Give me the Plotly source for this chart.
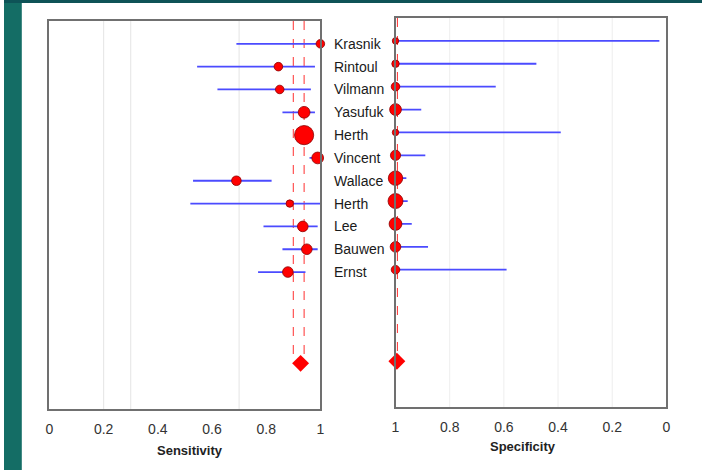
import math
import plotly.graph_objects as go

studies = ["Krasnik", "Rintoul", "Vilmann", "Yasufuk", "Herth", "Vincent",
           "Wallace", "Herth", "Lee", "Bauwen", "Ernst"]

sens = [1.00, 0.845, 0.85, 0.94, 0.94, 0.99, 0.69, 0.887, 0.935, 0.95, 0.88]
sens_lo = [0.69, 0.545, 0.62, 0.86, 0.91, 0.96, 0.53, 0.52, 0.79, 0.86, 0.77]
sens_hi = [1.00, 0.98, 0.965, 0.98, 0.97, 1.00, 0.82, 1.00, 0.99, 0.99, 0.945]
sens_weight = [3.2, 3.2, 3.2, 6.0, 16.0, 6.0, 4.0, 2.4, 4.9, 4.9, 4.9]

spec = [1.00, 1.00, 1.00, 1.00, 1.00, 1.00, 1.00, 1.00, 1.00, 1.00, 1.00]
spec_lo = [0.026, 0.48, 0.63, 0.905, 0.39, 0.89, 0.96, 0.955, 0.94, 0.88, 0.59]
spec_hi = [1.00, 1.00, 1.00, 1.00, 1.00, 1.00, 1.00, 1.00, 1.00, 1.00, 1.00]
spec_weight = [1.8, 2.4, 3.2, 6.0, 1.8, 4.5, 9.0, 9.7, 7.1, 4.9, 3.2]

pooled_sens = 0.927
pooled_sens_ci = [0.90, 0.94]
pooled_spec = 0.995
pooled_spec_ci = [0.993, 0.993]

sens_ticks = [0, 0.2, 0.4, 0.6, 0.8, 1]
spec_ticks = [1, 0.8, 0.6, 0.4, 0.2, 0]

rows = list(range(1, len(studies) + 1))
pooled_row = 15

W, H = 706, 470
def px(x):
    return x / W
def py(y):
    return 1 - y / H

fig = go.Figure()

def ci_trace(lo, hi, xa, ya):
    xs, ys = [], []
    for r, a, b in zip(rows, lo, hi):
        xs += [a, b, None]
        ys += [r, r, None]
    return go.Scatter(x=xs, y=ys, mode="lines", xaxis=xa, yaxis=ya,
                      line=dict(color="#4b4bff", width=1.8), cliponaxis=False,
                      hoverinfo="skip", showlegend=False)

def pt_trace(vals, weights, xa, ya):
    return go.Scatter(x=vals, y=rows, mode="markers", xaxis=xa, yaxis=ya, cliponaxis=False,
                      marker=dict(color="#ff0000", opacity=1,
                                  size=[4.8 * math.sqrt(w) for w in weights],
                                  line=dict(color="#8a0000", width=0.8)),
                      showlegend=False)

# dashed pooled lines
for v in pooled_sens_ci:
    fig.add_trace(go.Scatter(x=[v, v], y=[0, pooled_row], mode="lines", xaxis="x", yaxis="y",
                             line=dict(color="#ff3030", width=1, dash="dash"),
                             hoverinfo="skip", showlegend=False))
fig.add_trace(go.Scatter(x=[pooled_spec_ci[0], pooled_spec_ci[0]], y=[0, pooled_row], mode="lines",
                         xaxis="x2", yaxis="y2",
                         line=dict(color="#ff3030", width=1, dash="dash"),
                         hoverinfo="skip", showlegend=False))

fig.add_trace(ci_trace(sens_lo, sens_hi, "x", "y"))
fig.add_trace(ci_trace(spec_lo, spec_hi, "x2", "y2"))
fig.add_trace(pt_trace(sens, sens_weight, "x", "y"))
fig.add_trace(pt_trace(spec, spec_weight, "x2", "y2"))

fig.add_trace(go.Scatter(x=[pooled_sens], y=[pooled_row], mode="markers", xaxis="x", yaxis="y",
                         cliponaxis=False,
                         marker=dict(symbol="diamond", color="#ff0000", size=13, opacity=1,
                                     line=dict(color="#ff0000", width=0)),
                         showlegend=False))
fig.add_trace(go.Scatter(x=[pooled_spec], y=[pooled_row], mode="markers", xaxis="x2", yaxis="y2",
                         cliponaxis=False,
                         marker=dict(symbol="diamond", color="#ff0000", size=13, opacity=1,
                                     line=dict(color="#ff0000", width=0)),
                         showlegend=False))

axis_common = dict(showline=True, linecolor="#707070", linewidth=1.5, mirror=True,
                   showgrid=False, zeroline=False, ticks="",
                   tickfont=dict(family="Arial", size=14, color="#333333"),
                   ticklabelstandoff=6)

fig.update_layout(
    width=W, height=H,
    margin=dict(l=0, r=0, t=0, b=0),
    paper_bgcolor="white", plot_bgcolor="white",
    xaxis=dict(domain=[px(46), px(320)], range=[0, 1], anchor="y",
               tickvals=sens_ticks, ticktext=[f"{t:g}" for t in sens_ticks], **axis_common),
    yaxis=dict(domain=[py(409), py(21)], range=[17, 0], anchor="x",
               showticklabels=False, showline=True, linecolor="#707070", linewidth=1.5,
               mirror=True, showgrid=False, zeroline=False, ticks=""),
    xaxis2=dict(domain=[px(396), px(670)], range=[1, 0], anchor="y2",
                tickvals=spec_ticks, ticktext=[f"{t:g}" for t in spec_ticks], **axis_common),
    yaxis2=dict(domain=[py(407), py(18)], range=[17, 0], anchor="x2",
                showticklabels=False, showline=True, linecolor="#707070", linewidth=1.5,
                mirror=True, showgrid=False, zeroline=False, ticks=""),
    showlegend=False,
)

# faint background grid artefacts
shapes = []
for v in [0.2, 0.3, 0.7]:
    shapes.append(dict(type="line", xref="x", yref="y", x0=v, x1=v, y0=0, y1=17,
                       line=dict(color="#e4e4e4", width=1), layer="below"))
for v in [0.8, 0.6, 0.4, 0.2]:
    shapes.append(dict(type="line", xref="x2", yref="y2", x0=v, x1=v, y0=0, y1=17,
                       line=dict(color="#eeeeee", width=1), layer="below"))
# teal slide background strips
shapes.append(dict(type="rect", xref="paper", yref="paper", x0=0, x1=px(18), y0=0, y1=1,
                   fillcolor="#146d65", line=dict(width=0), layer="below"))
shapes.append(dict(type="rect", xref="paper", yref="paper", x0=0, x1=1, y0=py(3), y1=1,
                   fillcolor="#0e5357", line=dict(width=0), layer="below"))
fig.update_layout(shapes=shapes)

annotations = []
for r, name in zip(rows, studies):
    annotations.append(dict(x=px(332), xref="paper", y=r, yref="y", text=name,
                            showarrow=False, xanchor="left", yanchor="middle",
                            font=dict(family="Arial", size=14, color="#1a1a1a")))
annotations.append(dict(x=px(188), y=py(450), xref="paper", yref="paper", text="<b>Sensitivity</b>",
                        showarrow=False, xanchor="center", yanchor="middle",
                        font=dict(family="Arial", size=13, color="#222222")))
annotations.append(dict(x=px(525), y=py(446), xref="paper", yref="paper", text="<b>Specificity</b>",
                        showarrow=False, xanchor="center", yanchor="middle",
                        font=dict(family="Arial", size=13, color="#222222")))
fig.update_layout(annotations=annotations)

fig.write_html("out.html", config={"displayModeBar": False},
               post_script="document.body.style.margin='0px';")
